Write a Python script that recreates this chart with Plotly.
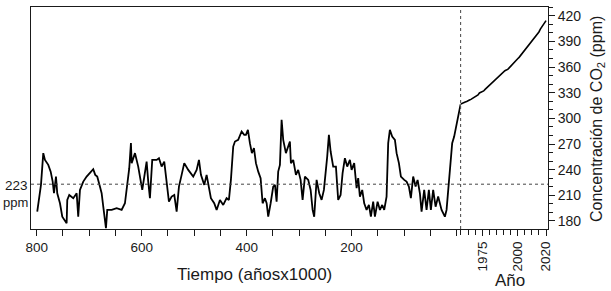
import plotly.graph_objects as go

# Ice-core CO2 record (thousands of years before present, ppm)
ice_kyr = [799, 795.1, 791.9, 787.5, 784.3, 778.0, 773.4, 769.6, 767.1, 763.3, 760.9, 755.7, 751.3, 743.0,
           741.8, 738.0, 730.4, 723.9, 720.9, 717.6, 711.3, 704.9, 698.6, 692.3, 688.5, 684.7, 679.6, 676.3,
           673.2, 668.1, 665.6, 657.2, 647.7, 638.2, 631.9, 627.5, 623.7, 620.5, 619.1, 612.8, 606.6, 598.9,
           595.1, 590.6, 587.5, 584.3, 579.9, 571.5, 567.1, 562.0, 557.0, 552.5, 548.1, 542.9, 537.9, 533.4,
           529.0, 523.9, 518.9, 511.3, 501.8, 495.3, 490.9, 487.1, 480.8, 476.3, 471.9, 468.1, 461.8, 457.2,
           450.9, 444.6, 438.2, 433.8, 430.0, 425.6, 422.3, 416.1, 409.6, 404.6, 401.4, 397.6, 393.8, 390.0,
           386.1, 382.3, 377.9, 373.4, 369.6, 365.2, 361.9, 358.9, 354.3, 349.4, 346.1, 342.9, 339.9, 336.6,
           333.4, 330.3, 325.2, 320.8, 317.6, 315.7, 311.3, 306.1, 301.8, 297.2, 293.4, 289.0, 282.7, 278.1,
           274.3, 271.3, 266.7, 261.7, 257.2, 252.8, 249.0, 246.5, 243.3, 240.0, 235.1, 229.9, 225.6, 221.0,
           217.2, 212.8, 208.4, 203.3, 200.0, 195.1, 190.5, 187.5, 184.2, 179.8, 176.0, 171.5, 167.1, 163.3,
           158.9, 155.6, 150.5, 146.1, 141.7, 137.9, 133.4, 130.3, 127.1, 122.7, 117.5, 114.3, 109.9, 106.1,
           99.8, 95.3, 90.9, 87.1, 82.7, 78.1, 74.3, 69.9, 66.7, 61.7, 57.2, 52.8, 49.0, 44.6, 40.0, 35.1,
           28.6, 22.3, 19.1, 14.7, 10.9, 8.4, 4.6, 1.9, -1.9, -6.3, -7.6]
ice_ppm = [190.9, 212.4, 222.2, 259.3, 251.4, 245.6, 237.7, 226.0, 212.4, 231.9, 212.4, 200.7, 185.0, 177.3,
           204.6, 210.4, 206.6, 212.4, 185.0, 216.3, 226.0, 231.9, 235.9, 240.5, 233.9, 231.9, 220.2, 212.4,
           196.7, 171.5, 192.9, 192.9, 194.9, 192.9, 200.7, 224.1, 241.7, 271.0, 247.6, 259.3, 243.6, 216.3,
           231.9, 249.4, 226.0, 206.6, 251.4, 251.4, 253.4, 243.6, 249.4, 224.1, 202.6, 208.5, 210.4, 190.9,
           220.2, 233.9, 247.6, 239.7, 231.9, 239.7, 251.4, 233.9, 222.2, 233.9, 216.3, 206.6, 200.7, 192.9,
           204.6, 198.7, 206.6, 204.6, 228.0, 267.0, 272.9, 274.9, 284.6, 280.7, 280.7, 286.6, 271.0, 259.3,
           265.1, 247.6, 237.7, 230.0, 200.7, 206.6, 200.7, 185.0, 200.7, 220.2, 222.2, 202.6, 237.7, 245.6,
           298.3, 274.9, 259.3, 267.0, 272.9, 247.6, 251.4, 233.9, 239.7, 228.0, 204.6, 231.9, 228.0, 216.3,
           192.9, 185.0, 228.0, 212.4, 204.6, 216.3, 235.9, 255.3, 280.7, 261.2, 243.6, 243.6, 204.6, 210.4,
           235.9, 253.4, 243.6, 251.4, 239.7, 247.6, 218.3, 230.0, 208.5, 216.3, 200.7, 192.9, 198.7, 185.0,
           202.6, 185.0, 202.6, 192.9, 198.7, 192.9, 208.5, 271.0, 286.6, 278.7, 274.9, 259.3, 247.6, 231.9,
           228.0, 226.0, 220.2, 206.6, 231.9, 220.2, 228.0, 212.4, 190.9, 216.3, 192.9, 216.3, 192.9, 216.3,
           196.7, 208.5, 192.9, 185.0, 192.9, 224.1, 255.3, 271.0, 278.7, 286.6, 298.3, 310.0, 316.4]

# Mauna Loa annual mean CO2 (year, ppm)
ml_year = list(range(1959, 2021))
ml_ppm = [315.98, 316.91, 317.64, 318.45, 318.99, 319.62, 320.04, 321.37, 322.18, 323.05, 324.62, 325.68,
          326.32, 327.46, 329.68, 330.19, 331.12, 332.03, 333.84, 335.41, 336.84, 338.76, 340.12, 341.48,
          343.15, 344.87, 346.35, 347.61, 349.31, 351.69, 353.20, 354.45, 355.70, 356.54, 357.21, 358.96,
          360.97, 362.74, 363.88, 366.84, 368.54, 369.71, 371.32, 373.45, 375.98, 377.70, 379.98, 382.09,
          384.02, 385.83, 387.64, 390.10, 391.85, 394.06, 396.74, 398.81, 401.01, 404.41, 406.76, 408.72,
          411.66, 414.24]

kyr_ticks = [800, 600, 400, 200]
year_ticks = [1975, 2000, 2020]
ppm_ticks = [180, 210, 240, 270, 300, 330, 360, 390, 420]
ref_level = 223

FONT = "Liberation Sans, Arial, sans-serif"
INK = "#1a1a1a"
YR = [170.6, 430.2]
SPLIT = 0.831

fig = go.Figure()
fig.add_trace(go.Scatter(x=ice_kyr, y=ice_ppm, mode="lines", xaxis="x", yaxis="y",
                         line=dict(color="black", width=1.8), showlegend=False))
fig.add_trace(go.Scatter(x=ml_year, y=ml_ppm, mode="lines", xaxis="x2", yaxis="y2",
                         line=dict(color="black", width=1.6), showlegend=False))

fig.update_layout(
    width=611, height=291,
    margin=dict(l=31, r=63, t=7, b=62),
    paper_bgcolor="white", plot_bgcolor="white",
    font=dict(family=FONT, color=INK, size=13),
    xaxis=dict(domain=[0, SPLIT], range=[810.9, -7.7], tickvals=kyr_ticks,
               ticks="outside", ticklen=6, tickcolor=INK, showline=True, linecolor=INK,
               linewidth=1, mirror=True, showgrid=False, zeroline=False,
               tickfont=dict(size=13.5),
               minor=dict(dtick=50, tick0=0, ticks="outside", ticklen=6, tickcolor=INK)),
    yaxis=dict(domain=[0, 1], range=YR, anchor="x", showline=True, linecolor=INK,
               linewidth=1, ticks="", showticklabels=False, showgrid=False, zeroline=False),
    xaxis2=dict(domain=[SPLIT, 1], range=[1959.74, 2021.4], tickvals=year_ticks, anchor="y2",
                tickangle=-90, ticks="outside", ticklen=6, tickcolor=INK, showline=True,
                linecolor=INK, linewidth=1, mirror=True, showgrid=False, zeroline=False,
                tickfont=dict(size=13.5),
                minor=dict(dtick=5, tick0=1960, ticks="outside", ticklen=5, tickcolor=INK)),
    yaxis2=dict(domain=[0, 1], range=YR, anchor="x2", side="right", tickvals=ppm_ticks,
                ticks="outside", ticklen=6, tickcolor=INK, showline=True, linecolor=INK,
                linewidth=1, showgrid=False, zeroline=False, tickfont=dict(size=14),
                minor=dict(dtick=10, tick0=180, ticks="outside", ticklen=4, tickcolor=INK)),
)

# dotted reference lines
fig.add_shape(type="line", xref="paper", x0=0, x1=1, yref="y", y0=ref_level, y1=ref_level,
              line=dict(color="#444", width=1, dash="dot"))
fig.add_shape(type="line", xref="x2 domain", x0=0, x1=0, yref="paper", y0=0, y1=1,
              line=dict(color="#444", width=1, dash="dot"))

# labels
fig.add_annotation(text=str(ref_level), xref="paper", x=-0.002, xanchor="right", yref="y", y=ref_level,
                   yanchor="middle", yshift=-1, showarrow=False, font=dict(size=13.5))
fig.add_annotation(text="ppm", xref="paper", x=-0.002, xanchor="right", yref="y", y=ref_level,
                   yanchor="middle", yshift=-18, showarrow=False, font=dict(size=13))
fig.add_annotation(text="Tiempo (añosx1000)", xref="paper", x=(254 - 31) / 517, xanchor="center",
                   yref="paper", y=-(274 - 229) / 222, yanchor="middle", showarrow=False,
                   font=dict(size=17))
fig.add_annotation(text="Año", xref="paper", x=(510 - 31) / 517, xanchor="center",
                   yref="paper", y=-(280 - 229) / 222, yanchor="middle", showarrow=False,
                   font=dict(size=17))
fig.add_annotation(text="Concentración de CO<sub>2</sub> (ppm)", xref="paper", x=(598 - 31) / 517,
                   xanchor="center", yref="paper", y=(229 - 119) / 222, yanchor="middle",
                   textangle=-90, showarrow=False, font=dict(size=16))

fig.write_html("out.html", config={"displayModeBar": False},
               post_script="document.body.style.margin='0px';document.body.style.overflow='hidden';")
